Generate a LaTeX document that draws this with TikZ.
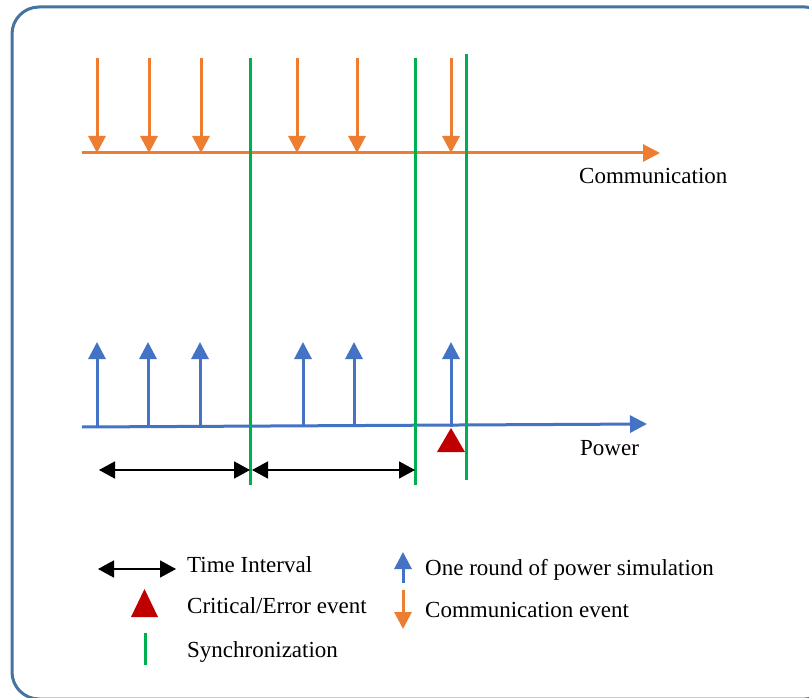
\documentclass[tikz,border=0pt]{standalone}
\usepackage{fontspec}
\setmainfont{Liberation Serif}
\usetikzlibrary{arrows.meta}
\definecolor{commorange}{RGB}{237,125,49}
\definecolor{powblue}{RGB}{68,114,196}
\definecolor{syncgreen}{RGB}{0,176,80}
\definecolor{errred}{RGB}{192,0,0}
\definecolor{framecol}{RGB}{70,115,160}

\begin{document}
\begin{tikzpicture}[x=1pt,y=-1pt,
  lbl/.style={inner sep=0pt, anchor=base west, font=\fontsize{23}{27}\selectfont},
  axiscomm/.style={commorange, line width=3pt, -{Triangle[length=17pt,width=17pt]}},
  axispow/.style={powblue, line width=3pt, -{Triangle[length=17pt,width=17pt]}},
  commev/.style={commorange, line width=3pt, -{Triangle[length=17pt,width=17pt]}},
  powev/.style={powblue, line width=3pt, -{Triangle[length=17pt,width=17pt]}},
  syncline/.style={syncgreen, line width=3pt},
  interval/.style={black, line width=1.6pt, {Triangle[length=16pt,width=17pt]}-{Triangle[length=16pt,width=17pt]}},
  errmark/.style={fill=errred, draw=none},
]
\useasboundingbox (0,0) rectangle (809,698);
\clip (0,0) rectangle (809,698);
\fill[white] (0,0) rectangle (809,698);

% outer frame
\draw[framecol, line width=3pt, rounded corners=27pt] (12,7) rectangle (832,699);

% communication time line
\coordinate (cs) at (82,153);
\coordinate (ce) at (660,153);
\draw[axiscomm] (cs) -- (ce);
\node[lbl] (commlbl) at (579,184) {Communication};

% communication events
\foreach \x [count=\i] in {97,149,201,297,357,451} {
  \coordinate (ct\i) at (\x,58);
  \coordinate (cb\i) at (\x,153);
  \draw[commev] (ct\i) -- (cb\i);
}

% power time line
\coordinate (ps) at (82,427);
\coordinate (pe) at (647,424);
\draw[axispow] (ps) -- (pe);
\node[lbl] (powlbl) at (580,455) {Power};

% rounds of power simulation
\foreach \x [count=\i] in {97,148,200,303,354,451} {
  \coordinate (pb\i) at (\x,427);
  \coordinate (pt\i) at (\x,342);
  \draw[powev] (pb\i) -- (pt\i);
}

% critical event on the power line
\fill[errmark] (437,452) -- (451,428) -- (465,452) -- cycle;

% synchronization points
\coordinate (s1t) at (250,58);  \coordinate (s1b) at (250,485);
\coordinate (s2t) at (415,58);  \coordinate (s2b) at (415,485);
\coordinate (s3t) at (466,54);  \coordinate (s3b) at (466,480);
\draw[syncline] (s1t) -- (s1b);
\draw[syncline] (s2t) -- (s2b);
\draw[syncline] (s3t) -- (s3b);

% time intervals
\coordinate (i1a) at (99,470);  \coordinate (i1b) at (250,470);
\coordinate (i2a) at (252,470); \coordinate (i2b) at (415,470);
\draw[interval] (i1a) -- (i1b);
\draw[interval] (i2a) -- (i2b);

% legend
\coordinate (la) at (98,569); \coordinate (lb) at (176,569);
\draw[interval] (la) -- (lb);
\node[lbl] (ltime) at (187,572) {Time Interval};

\fill[errmark] (131,617) -- (144.5,589) -- (158,617) -- cycle;
\node[lbl] (lerr) at (187,613) {Critical/Error event};

\coordinate (lsa) at (145,633); \coordinate (lsb) at (145,665);
\draw[syncline] (lsa) -- (lsb);
\node[lbl] (lsync) at (187,657) {Synchronization};

\coordinate (lpa) at (403,583); \coordinate (lpb) at (403,552);
\draw[powev] (lpa) -- (lpb);
\node[lbl] (lpow) at (425,575) {One round of power simulation};

\coordinate (lca) at (403,590); \coordinate (lcb) at (403,629);
\draw[commev] (lca) -- (lcb);
\node[lbl] (lcomm) at (425,617) {Communication event};
\end{tikzpicture}
\end{document}
